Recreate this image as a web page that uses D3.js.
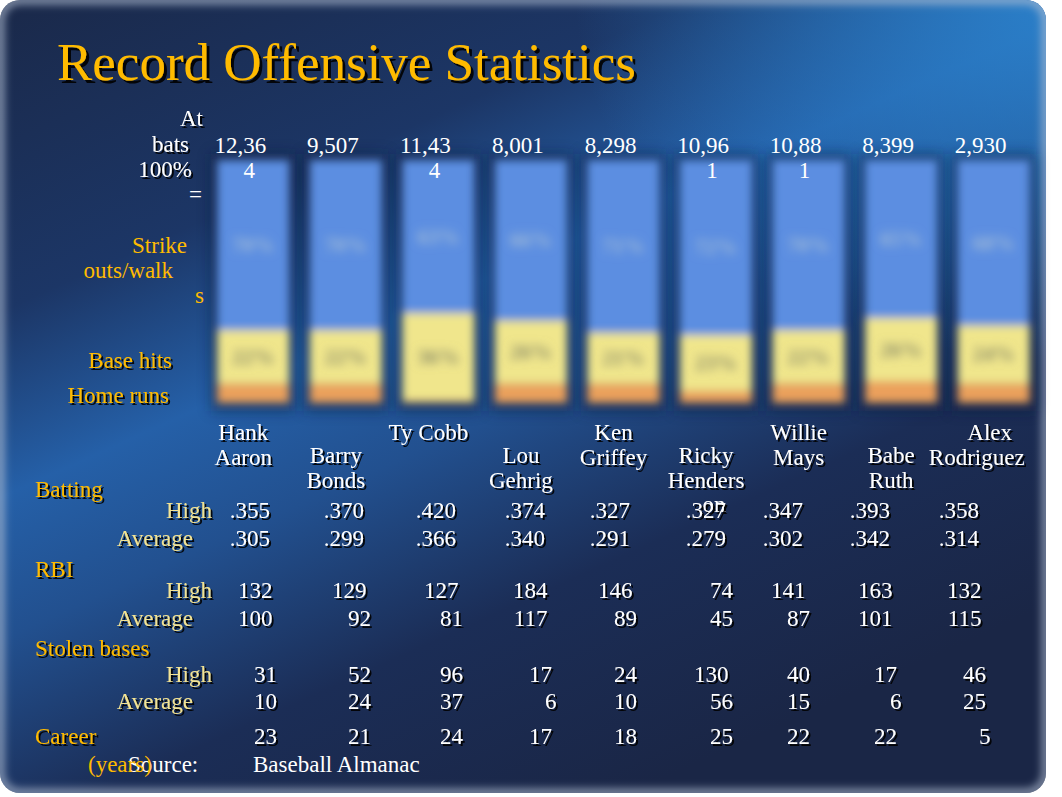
<!DOCTYPE html>
<html>
<head>
<meta charset="utf-8">
<script src="https://cdn.jsdelivr.net/npm/d3@7"></script>
<style>
  body { margin: 0; background: #fff; }
  svg { display: block; }
  text { font-family: "Liberation Serif", "Times New Roman", serif; font-size: 23px; }
</style>
</head>
<body>
<div id="slide"></div>
<script>
var WIDTH = 1062, HEIGHT = 797;
var SLIDE_W = 1046, SLIDE_H = 793;
var GOLD = '#ffbb00', KHAKI = '#f2e394', WHITE = '#ffffff';

// players, left to right
var players = ['Hank Aaron', 'Barry Bonds', 'Ty Cobb', 'Lou Gehrig', 'Ken Griffey',
  'Ricky Henderson', 'Willie Mays', 'Babe Ruth', 'Alex Rodriguez'];
// names as they wrap on the slide
var nameLines = [['Hank', 'Aaron'], ['Barry', 'Bonds'], ['Ty Cobb'], ['Lou', 'Gehrig'],
  ['Ken', 'Griffey'], ['Ricky', 'Henders', 'on'], ['Willie', 'Mays'], ['Babe', 'Ruth'],
  ['Alex', 'Rodriguez']];
// at bats (= 100%), wrapped like the original
var atBatLines = [['12,36', '4'], ['9,507'], ['11,43', '4'], ['8,001'], ['8,298'],
  ['10,96', '1'], ['10,88', '1'], ['8,399'], ['2,930']];

// share of at bats, percent
var homeRunPct = [8, 8, 1, 8, 8, 5, 8, 9, 8];
var baseHitPct = [22, 22, 36, 26, 21, 23, 22, 26, 24];
var strikeWalkPct = [70, 70, 63, 66, 71, 72, 70, 65, 68];

var battingHigh = ['.355', '.370', '.420', '.374', '.327', '.327', '.347', '.393', '.358'];
var battingAvg = ['.305', '.299', '.366', '.340', '.291', '.279', '.302', '.342', '.314'];
var rbiHigh = [132, 129, 127, 184, 146, 74, 141, 163, 132];
var rbiAvg = [100, 92, 81, 117, 89, 45, 87, 101, 115];
var sbHigh = [31, 52, 96, 17, 24, 130, 40, 17, 46];
var sbAvg = [10, 24, 37, 6, 10, 56, 15, 6, 25];
var careerYears = [23, 21, 24, 17, 18, 25, 22, 22, 5];

// right-hand tab stops of the table's text columns (layout, not data)
var columnTabs = [277, 371, 463, 552, 637, 733, 810, 897, 986];

var svg = d3.select('#slide').append('svg')
  .attr('width', WIDTH)
  .attr('height', HEIGHT);

var defs = svg.append('defs');

defs.append('clipPath').attr('id', 'slideClip')
  .append('rect')
    .attr('width', SLIDE_W).attr('height', SLIDE_H)
    .attr('rx', 20).attr('ry', 20);

function gradient(id, x1, y1, x2, y2, stops) {
  var g = defs.append('linearGradient').attr('id', id)
    .attr('gradientUnits', 'userSpaceOnUse')
    .attr('x1', x1).attr('y1', y1).attr('x2', x2).attr('y2', y2);
  stops.forEach(function(s) {
    g.append('stop').attr('offset', s[0]).attr('stop-color', s[1]);
  });
}

// diagonal light band running from lower left to upper right
gradient('bg', 318, -160, 728, 750, [
  [0, '#1a2848'], [0.3, '#1c3666'], [0.47, '#2560a8'],
  [0.6, '#22508f'], [0.78, '#1b2d56'], [1, '#1a2646']
]);

var glow = defs.append('radialGradient').attr('id', 'glow')
  .attr('cx', 1.0).attr('cy', 0.0).attr('r', 0.45);
glow.append('stop').attr('offset', 0).attr('stop-color', '#2b82cc').attr('stop-opacity', 0.9);
glow.append('stop').attr('offset', 1).attr('stop-color', '#2b82cc').attr('stop-opacity', 0);

function blur(id, sd) {
  defs.append('filter').attr('id', id)
    .attr('x', '-50%').attr('y', '-50%').attr('width', '200%').attr('height', '200%')
    .append('feGaussianBlur').attr('stdDeviation', sd);
}
blur('barBlur', 4);
blur('labelBlur', 5);
blur('shadowBlur', 7);
blur('edgeBlur', 4);

function dropShadow(id, d) {
  defs.append('filter').attr('id', id)
    .attr('x', '-10%').attr('y', '-30%').attr('width', '130%').attr('height', '160%')
    .append('feDropShadow')
      .attr('dx', d).attr('dy', d).attr('stdDeviation', 0.4)
      .attr('flood-color', '#000').attr('flood-opacity', 0.9);
}
dropShadow('textShadow', 2);
dropShadow('titleShadow', 3);

// slide background
var slide = svg.append('g').attr('clip-path', 'url(#slideClip)');
slide.append('rect').attr('width', SLIDE_W).attr('height', SLIDE_H).attr('fill', 'url(#bg)');
slide.append('rect').attr('width', SLIDE_W).attr('height', SLIDE_H).attr('fill', 'url(#glow)');
slide.append('rect')
  .attr('width', SLIDE_W).attr('height', SLIDE_H)
  .attr('rx', 20).attr('ry', 20)
  .attr('fill', 'none')
  .attr('stroke', '#b4c0d4')
  .attr('stroke-opacity', 0.75)
  .attr('stroke-width', 8)
  .attr('filter', 'url(#edgeBlur)');

function label(g, str, x, y, color, anchor, shadow, size) {
  return g.append('text')
    .attr('x', x).attr('y', y)
    .attr('fill', color)
    .attr('text-anchor', anchor || 'start')
    .style('font-size', size ? size + 'px' : null)
    .attr('filter', shadow ? 'url(#' + shadow + ')' : null)
    .text(str);
}

label(svg, 'Record Offensive Statistics', 57, 80, GOLD, 'start', 'titleShadow', 53);

// stacked 100% columns
var x = d3.scaleBand()
  .domain(players)
  .range([207, 1040])
  .paddingInner(0.22)
  .paddingOuter(0.11);

var y = d3.scaleLinear().domain([0, 100]).range([403, 160]);

var rows = players.map(function(p, i) {
  return { player: p, homeRuns: homeRunPct[i], baseHits: baseHitPct[i], strikeWalks: strikeWalkPct[i] };
});
var keys = ['homeRuns', 'baseHits', 'strikeWalks'];
var fills = { homeRuns: '#eba05c', baseHits: '#f0e68c', strikeWalks: '#5b8ee1' };
var inkColor = { baseHits: '#8a8b68', strikeWalks: '#9fbad8' };
var series = d3.stack().keys(keys)(rows);

var chart = svg.append('g');

chart.selectAll('.shade').data(players)
  .enter().append('rect').classed('shade', true)
    .attr('x', function(p) { return x(p) - 6; })
    .attr('y', y(100) - 6)
    .attr('width', x.bandwidth() + 12)
    .attr('height', y(0) - y(100) + 14)
    .attr('fill', '#0d1e3e')
    .attr('opacity', 0.55)
    .attr('filter', 'url(#shadowBlur)');

var bars = chart.append('g').attr('filter', 'url(#barBlur)');

bars.selectAll('.segment')
  .data(series)
  .enter().append('g').classed('segment', true)
    .attr('fill', function(s) { return fills[s.key]; })
  .selectAll('rect')
  .data(function(s) { return s; })
  .enter().append('rect')
    .attr('x', function(d) { return x(d.data.player); })
    .attr('y', function(d) { return y(d[1]); })
    .attr('width', x.bandwidth())
    .attr('height', function(d) { return y(d[0]) - y(d[1]); });

// the value labels inside the bars are smeared in the original
var inks = chart.append('g').attr('filter', 'url(#labelBlur)');
series.filter(function(s) { return s.key !== 'homeRuns'; }).forEach(function(s) {
  inks.selectAll('.ink-' + s.key).data(s)
    .enter().append('text')
      .attr('x', function(d) { return x(d.data.player) + x.bandwidth() / 2; })
      .attr('y', function(d) { return (y(d[0]) + y(d[1])) / 2 + 7; })
      .attr('text-anchor', 'middle')
      .attr('fill', inkColor[s.key])
      .style('font-size', '21px')
      .style('font-weight', 'bold')
      .text(function(d) { return (d[1] - d[0]) + '%'; });
});

// at bats over the columns
players.forEach(function(p, i) {
  var cx = x(p) + x.bandwidth() / 2;
  atBatLines[i].forEach(function(line, j) {
    label(svg, line, cx - (j ? 4 : 13), 153 + j * 24.5, WHITE, 'middle');
  });
});

// player names under the columns, staggered
players.forEach(function(p, i) {
  var cx = x(p) + x.bandwidth() / 2 - 10;
  var top = i % 2 ? 463 : 440;
  nameLines[i].forEach(function(line, j) {
    var lx = cx;
    if (line === 'Rodriguez') lx = cx - 7;
    if (line === 'Alex') lx = cx + 6;
    if (line === 'on') lx = cx + 8;
    label(svg, line, lx, top + j * 24.5, WHITE, 'middle', 'textShadow');
  });
});

// legend down the left side
label(svg, 'At', 203, 126, WHITE, 'end', 'textShadow');
label(svg, 'bats', 189, 152, WHITE, 'end', 'textShadow');
label(svg, '100%', 192, 177, WHITE, 'end', 'textShadow');
label(svg, '=', 202, 202, WHITE, 'end');
label(svg, 'Strike', 187, 253, GOLD, 'end');
label(svg, 'outs/walk', 173, 278, GOLD, 'end');
label(svg, 's', 204, 303, GOLD, 'end');
label(svg, 'Base hits', 172, 368, GOLD, 'end', 'textShadow');
label(svg, 'Home runs', 169, 403, GOLD, 'end', 'textShadow');

// table of figures
var tx = d3.scaleOrdinal().domain(players).range(columnTabs);

// decimals sit a little left of the tab, short numbers a little right
function tabShift(v) {
  if (typeof v === 'string') return -7;
  return (2 - String(v).length) * 4.5;
}

var tableRows = [
  { name: 'High', values: battingHigh, y: 518, at: 212 },
  { name: 'Average', values: battingAvg, y: 546, at: 193 },
  { name: 'High', values: rbiHigh, y: 598, at: 212 },
  { name: 'Average', values: rbiAvg, y: 626, at: 193 },
  { name: 'High', values: sbHigh, y: 682, at: 212 },
  { name: 'Average', values: sbAvg, y: 709, at: 193 },
  { name: '', values: careerYears, y: 744, at: 0 }
];

var table = svg.append('g');
label(table, 'Batting', 35, 497, GOLD, 'start', 'textShadow');
label(table, 'RBI', 35, 577, GOLD, 'start', 'textShadow');
label(table, 'Stolen bases', 35, 656, GOLD, 'start', 'textShadow');
label(table, 'Career', 35, 744, GOLD, 'start', 'textShadow');

tableRows.forEach(function(row) {
  if (row.name) label(table, row.name, row.at, row.y, KHAKI, 'end', 'textShadow');
  table.append('g').selectAll('text')
    .data(row.values)
    .enter().append('text')
      .attr('x', function(v, i) { return tx(players[i]) + tabShift(v); })
      .attr('y', row.y)
      .attr('text-anchor', 'end')
      .attr('fill', WHITE)
      .attr('filter', 'url(#textShadow)')
      .text(function(v) { return v; });
});

label(table, 'Source:', 128, 772, WHITE);
label(table, '(years)', 88, 772, GOLD);
label(table, 'Baseball Almanac', 253, 772, WHITE);
</script>
</body>
</html>
